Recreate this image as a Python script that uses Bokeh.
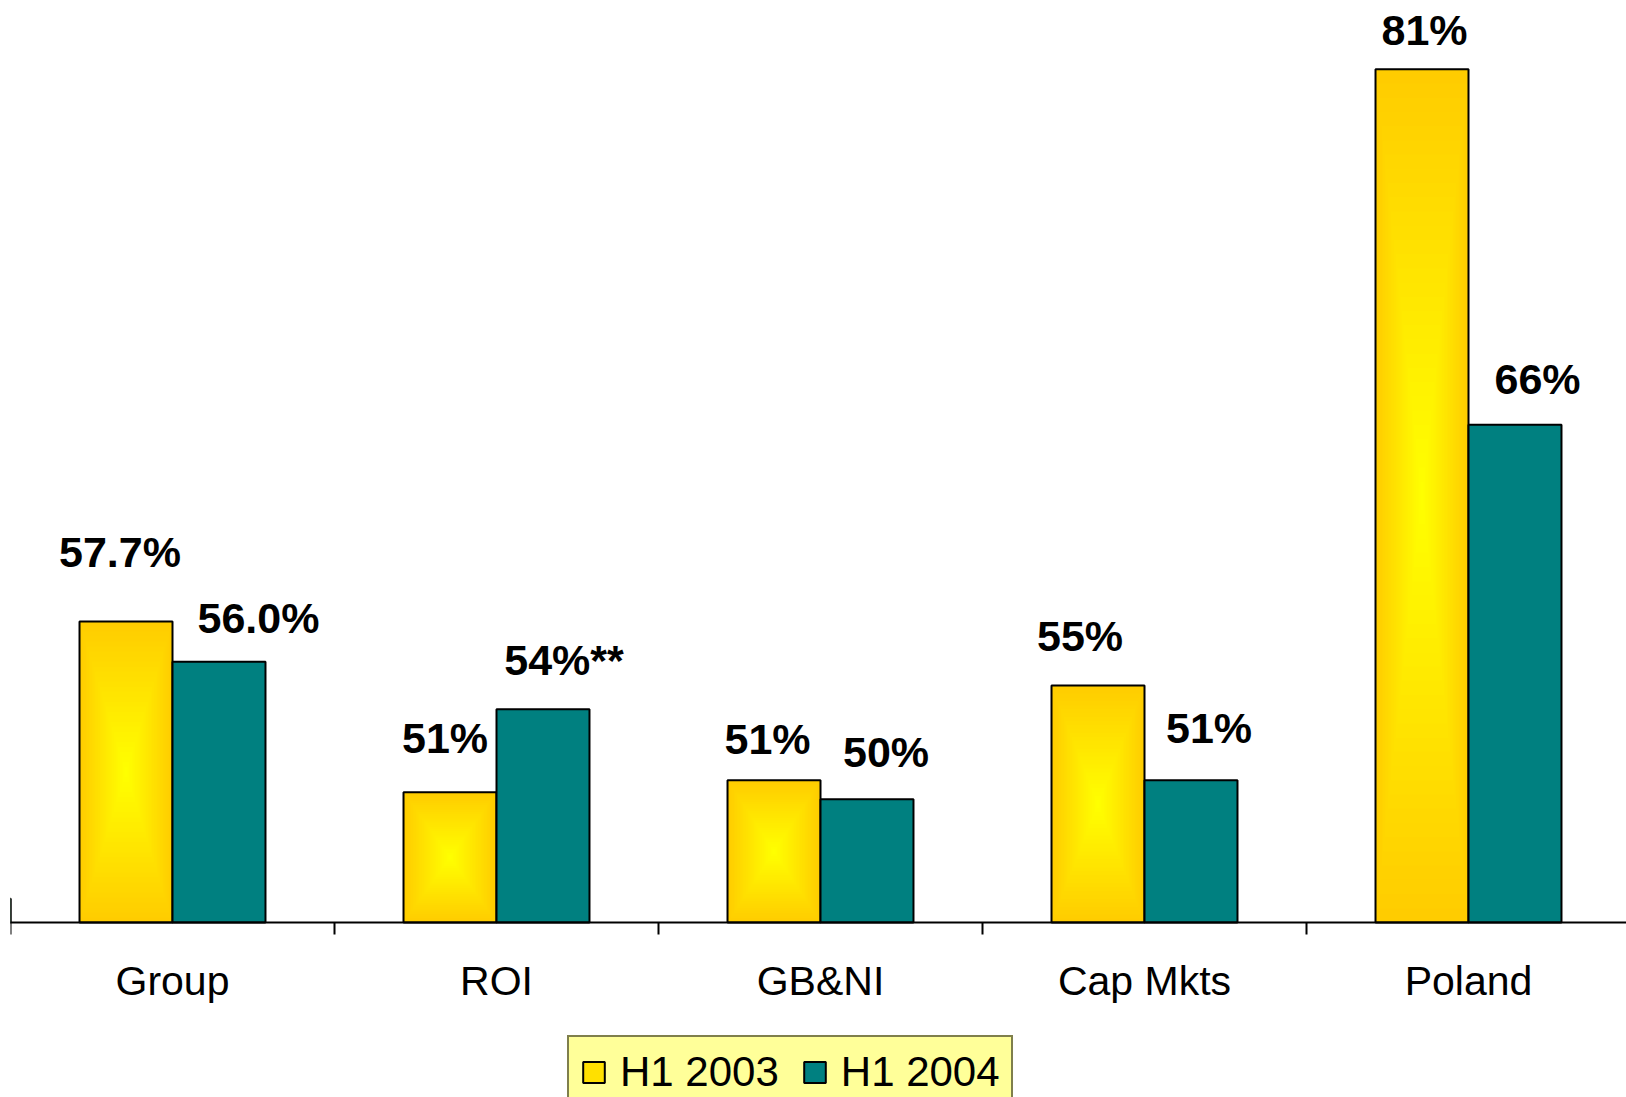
from bokeh.plotting import figure
from bokeh.models import (ColumnDataSource, Range1d, FixedTicker, Legend, LegendItem)
from bokeh.core.properties import value
from bokeh.embed import file_html
from bokeh.resources import INLINE

# ---- data ----
categories = ["Group", "ROI", "GB&NI", "Cap Mkts", "Poland"]
h1_2003 = [57.7, 50.5, 51.0, 55.0, 81.0]
h1_2004 = [56.0, 54.0, 50.2, 51.0, 66.0]
labels_2003 = ["57.7%", "51%", "51%", "55%", "81%"]
labels_2004 = ["56.0%", "54%**", "50%", "51%", "66%"]
series_names = ["H1 2003", "H1 2004"]

# ---- styling (label nudges in px) ----
dx_2003 = [-6, -5, -6.5, -18, 2.5]
dy_2003 = [69.5, 54.5, 41.5, 49.5, 39.5]
dx_2004 = [39.5, 21, 19, 18, 22.5]
dy_2004 = [43.5, 49.5, 47.5, 52.5, 45.5]

BASE = 45.0
BAR_W = 0.287
FONT = "Liberation Sans"
PX_PER_UNIT = 23.7

n = len(categories)
centers = [i + 0.5 for i in range(n)]
x03 = [c - BAR_W / 2 for c in centers]
x04 = [c + BAR_W / 2 for c in centers]

p = figure(width=1626, height=1097, output_backend="svg", toolbar_location=None,
           x_range=Range1d(0, 1616 / 324.0),
           y_range=Range1d(BASE - 175 / PX_PER_UNIT, BASE + 922 / PX_PER_UNIT),
           min_border_left=10, min_border_right=0, min_border_top=0, min_border_bottom=0)
p.outline_line_color = None
p.xgrid.visible = False
p.ygrid.visible = False
p.yaxis.visible = False
p.background_fill_color = "white"
p.border_fill_color = "white"

# gradient-filled yellow bars: concentric rectangles from gold edge to yellow centre
N = 30
for k in range(N):
    f = 1.0 - k / N
    t = k / (N - 1)
    g = int(round(204 + (255 - 204) * t))
    color = "#FF%02X00" % g
    tops = []
    bottoms = []
    for v in h1_2003:
        h = v - BASE
        inset = h * (1 - f) / 2
        bottoms.append(BASE + inset)
        tops.append(v - inset)
    src = ColumnDataSource(dict(x=x03, top=tops, bottom=bottoms))
    p.vbar(x="x", top="top", bottom="bottom", width=BAR_W * f, source=src,
           fill_color=color, line_color=None)

src03 = ColumnDataSource(dict(x=x03, top=h1_2003, label=labels_2003, dx=dx_2003,
                              dy=[-d for d in dy_2003]))
src04 = ColumnDataSource(dict(x=x04, top=h1_2004, label=labels_2004, dx=dx_2004,
                              dy=[-d for d in dy_2004]))

p.vbar(x="x", top="top", bottom=BASE, width=BAR_W, source=src03,
       fill_color=None, line_color="black", line_width=2)
p.vbar(x="x", top="top", bottom=BASE, width=BAR_W, source=src04,
       fill_color="#008080", line_color="black", line_width=2)

for src in (src03, src04):
    p.text(x="x", y="top", text="label", x_offset="dx", y_offset="dy", source=src,
           text_font=value(FONT), text_font_style="bold", text_font_size="43px",
           text_align="center", text_baseline="alphabetic", text_color="black")

# axis, pinned at the bars' base
ax = p.xaxis[0]
ax.fixed_location = BASE
ax.ticker = FixedTicker(ticks=centers, minor_ticks=list(range(n)))
ax.major_label_overrides = {c: categories[i] for i, c in enumerate(centers)}
ax.major_label_text_font = FONT
ax.major_label_text_font_size = "41px"
ax.major_label_text_color = "black"
ax.major_label_standoff = 23
ax.major_tick_out = 0
ax.major_tick_in = 0
ax.minor_tick_out = 12
ax.minor_tick_in = 0
ax.minor_tick_line_color = "black"
ax.minor_tick_line_width = 2
ax.axis_line_color = "black"
ax.axis_line_width = 2

# legend swatch renderers (not visible in plot)
d03 = p.vbar(x=[-10], top=[BASE + 1], bottom=BASE, width=0.1, fill_color="#FFE000",
             line_color="black", line_width=2)
d04 = p.vbar(x=[-10], top=[BASE + 1], bottom=BASE, width=0.1, fill_color="#008080",
             line_color="black", line_width=2)

legend = Legend(items=[LegendItem(label=series_names[0], renderers=[d03]),
                       LegendItem(label=series_names[1], renderers=[d04])],
                orientation="horizontal", location=(557, -12),
                label_text_font=FONT, label_text_font_size="42px", label_text_color="black",
                glyph_width=27, glyph_height=26, label_standoff=13, spacing=22,
                padding=11, margin=0, border_line_color="black", border_line_width=2,
                background_fill_color="#FFFF99", background_fill_alpha=1.0)
p.add_layout(legend, "center")

open("out.html", "w").write(file_html(p, INLINE))
